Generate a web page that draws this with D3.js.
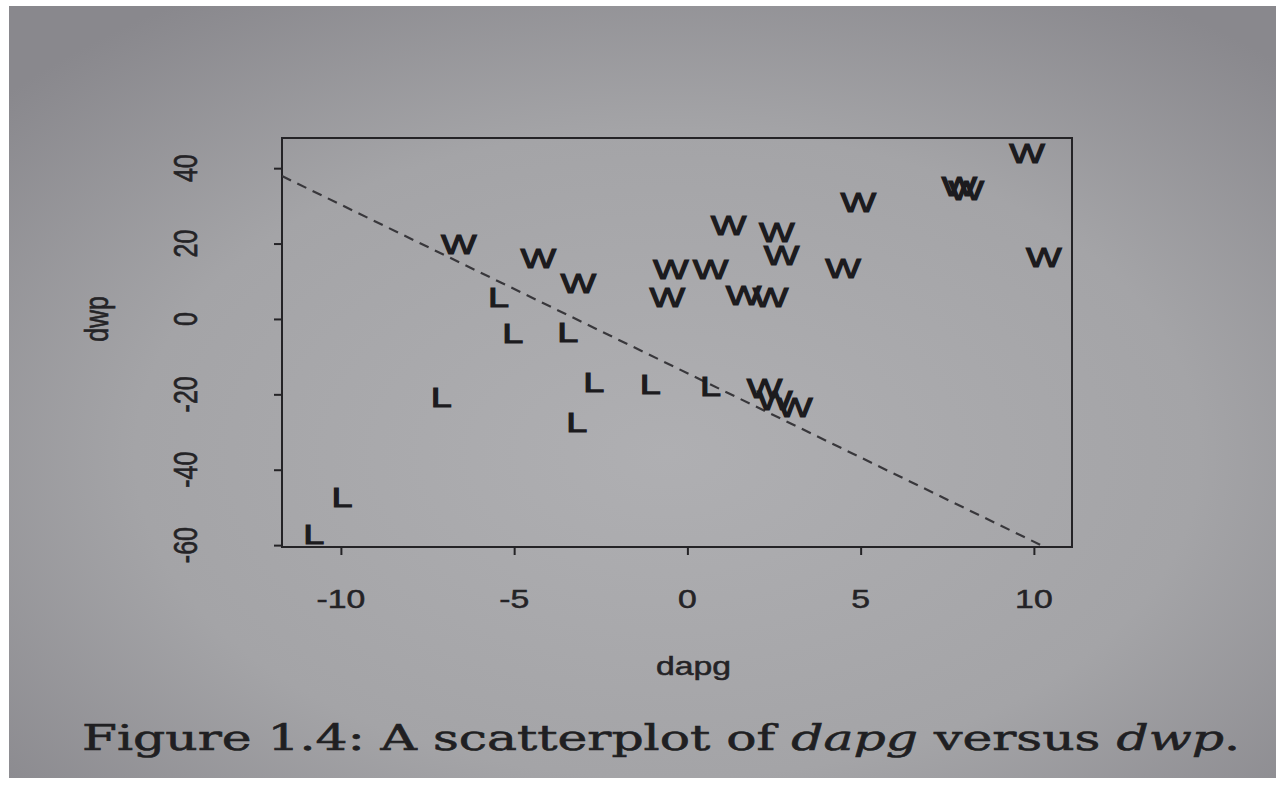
<!DOCTYPE html>
<html>
<head>
<meta charset="utf-8">
<script src="https://cdn.jsdelivr.net/npm/d3@7"></script>
<style>
  html, body { margin: 0; padding: 0; background: #ffffff; }
  svg { display: block; }
</style>
</head>
<body>
<div id="scatter"></div>
<script>
// 1. DATA
// ======================================

// W points (dapg, dwp)
var wDapg = [-6.6, -4.3, -3.15, -0.48, 0.67, -0.58, 1.62, 2.4, 1.19, 2.58, 2.72, 4.49, 4.93, 7.85, 8.05, 9.8, 10.29, 2.23, 2.52, 3.1];
var wDwp  = [20.0, 16.2, 9.5, 13.3, 13.3, 5.8, 6.4, 5.8, 24.9, 23.1, 17.0, 13.5, 31.0, 35.3, 34.2, 44.0, 16.4, -18.3, -21.5, -23.3];

// L points (dapg, dwp)
var lDapg = [-5.45, -5.04, -3.45, -2.7, -1.07, 0.67, -3.19, -7.1, -9.97, -10.78];
var lDwp  = [5.8, -3.7, -3.4, -16.7, -17.3, -17.8, -27.3, -20.7, -47.2, -57.0];

// ticks
var xTicks = [-10, -5, 0, 5, 10];
var yTicks = [-60, -40, -20, 0, 20, 40];

// dashed line: dwp = a + b * dapg
var lineIntercept = -14.4;
var lineSlope = -4.47;

// 2. SET UP SVG
// ======================================
var svgWidth = 1276;
var svgHeight = 789;

var box = { left: 282, right: 1072, top: 138, bottom: 547 };
var stretch = 1.35;   // the photo is wider than tall

var svg = d3.select("#scatter")
  .append("svg")
  .attr("width", svgWidth)
  .attr("height", svgHeight);

// paper background
var defs = svg.append("defs");
var grad = defs.append("radialGradient")
  .attr("id", "paper")
  .attr("cx", "52%").attr("cy", "58%").attr("r", "70%");
grad.append("stop").attr("offset", "0%").attr("stop-color", "#afafb2");
grad.append("stop").attr("offset", "60%").attr("stop-color", "#a4a4a7");
grad.append("stop").attr("offset", "100%").attr("stop-color", "#89888d");

svg.append("rect")
  .attr("x", 9).attr("y", 6)
  .attr("width", svgWidth - 9).attr("height", 772)
  .attr("fill", "url(#paper)");

defs.append("clipPath").attr("id", "plotclip")
  .append("rect")
  .attr("x", box.left).attr("y", box.top)
  .attr("width", box.right - box.left).attr("height", box.bottom - box.top);

// 3. SCALES & AXES
// ======================================
var xScale = d3.scaleLinear().domain([-11.7, 11.1]).range([box.left, box.right]);
var yScale = d3.scaleLinear().domain([-60.5, 48]).range([box.bottom, box.top]);

var ink = "#242326";
var fontFam = "'Liberation Sans', Arial, Helvetica, sans-serif";

// box
svg.append("rect")
  .attr("x", box.left).attr("y", box.top)
  .attr("width", box.right - box.left).attr("height", box.bottom - box.top)
  .attr("fill", "none")
  .attr("stroke", ink)
  .attr("stroke-width", 2);

var bottomAxis = d3.axisBottom(xScale).tickValues(xTicks).tickSize(8).tickFormat("");
var leftAxis = d3.axisLeft(yScale).tickValues(yTicks).tickSize(8).tickFormat("");

var xAxis = svg.append("g")
  .attr("transform", `translate(0, ${box.bottom})`)
  .call(bottomAxis);
var yAxis = svg.append("g")
  .attr("transform", `translate(${box.left}, 0)`)
  .call(leftAxis);

[xAxis, yAxis].forEach(function(ax) {
  ax.select(".domain").remove();
  ax.selectAll("line").attr("stroke", ink).attr("stroke-width", 2);
});

// tick labels (stretched like the photo)
svg.append("g").selectAll("text")
  .data(xTicks)
  .enter()
  .append("text")
  .attr("transform", d => `translate(${xScale(d)}, 608) scale(${stretch}, 1)`)
  .attr("text-anchor", "middle")
  .attr("fill", ink)
  .attr("stroke", ink)
  .attr("stroke-width", 0.5)
  .style("font-family", fontFam)
  .style("font-size", "25px")
  .text(d => d);

svg.append("g").selectAll("text")
  .data(yTicks)
  .enter()
  .append("text")
  .attr("transform", d => `translate(197, ${yScale(d)}) scale(${stretch}, 1) rotate(-90)`)
  .attr("text-anchor", "middle")
  .attr("fill", ink)
  .attr("stroke", ink)
  .attr("stroke-width", 0.5)
  .style("font-family", fontFam)
  .style("font-size", "25px")
  .text(d => d);

// axis titles
svg.append("text")
  .attr("transform", `translate(${xScale(0) + 6}, 675) scale(${stretch}, 1)`)
  .attr("text-anchor", "middle")
  .attr("fill", ink)
  .attr("stroke", ink)
  .attr("stroke-width", 0.5)
  .style("font-family", fontFam)
  .style("font-size", "25px")
  .text("dapg");

svg.append("text")
  .attr("transform", `translate(108, ${yScale(0)}) scale(${stretch}, 1) rotate(-90)`)
  .attr("text-anchor", "middle")
  .attr("fill", ink)
  .attr("stroke", ink)
  .attr("stroke-width", 0.5)
  .style("font-family", fontFam)
  .style("font-size", "25px")
  .text("dwp");

// 4. MARKS
// ======================================
var plot = svg.append("g").attr("clip-path", "url(#plotclip)");

// dashed line
var lineX = [-11.7, 11.1];
plot.append("line")
  .attr("x1", xScale(lineX[0]))
  .attr("y1", yScale(lineIntercept + lineSlope * lineX[0]))
  .attr("x2", xScale(lineX[1]))
  .attr("y2", yScale(lineIntercept + lineSlope * lineX[1]))
  .attr("stroke", "#38373b")
  .attr("stroke-width", 2.2)
  .attr("stroke-dasharray", "10,7");

var wPoints = wDapg.map((d, i) => ({ x: d, y: wDwp[i], lab: "W" }));
var lPoints = lDapg.map((d, i) => ({ x: d, y: lDwp[i], lab: "L" }));

// point labels, overplotted as in the original
plot.append("g").selectAll("text")
  .data(wPoints.concat(lPoints))
  .enter()
  .append("text")
  .attr("transform", d => `translate(${xScale(d.x)}, ${yScale(d.y)}) scale(${stretch}, 1)`)
  .attr("dy", "0.36em")
  .attr("text-anchor", "middle")
  .attr("fill", "#1c1b1e")
  .attr("stroke", "#1c1b1e")
  .attr("stroke-width", 1.1)
  .style("font-family", fontFam)
  .style("font-size", "28px")
  .text(d => d.lab);

// 5. CAPTION
// ======================================
var caption = svg.append("text")
  .attr("x", 82)
  .attr("y", 750)
  .attr("textLength", 1158)
  .attr("lengthAdjust", "spacingAndGlyphs")
  .attr("fill", "#201f22")
  .attr("stroke", "#201f22")
  .attr("stroke-width", 0.6)
  .style("font-family", "'DejaVu Serif', 'Liberation Serif', serif")
  .style("font-size", "36px");

caption.append("tspan").text("Figure 1.4:  A scatterplot of ");
caption.append("tspan").style("font-style", "italic").text("dapg");
caption.append("tspan").text(" versus ");
caption.append("tspan").style("font-style", "italic").text("dwp");
caption.append("tspan").text(".");
</script>
</body>
</html>
